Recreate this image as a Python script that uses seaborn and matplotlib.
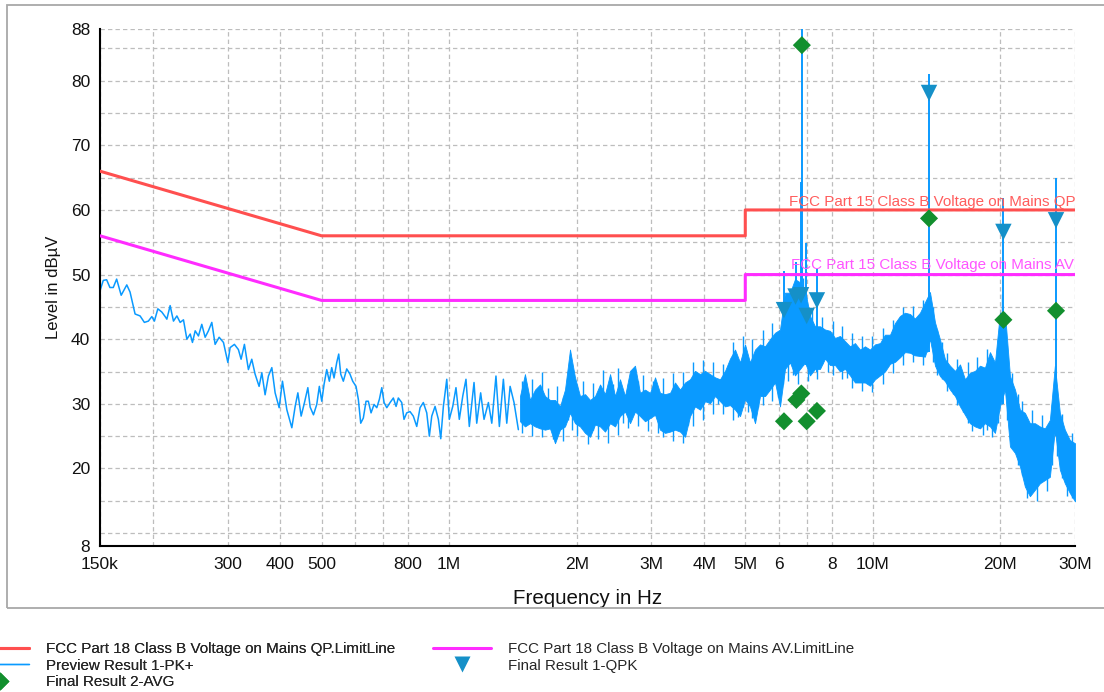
import matplotlib
matplotlib.use('Agg')
import matplotlib.pyplot as plt
from matplotlib.lines import Line2D
from matplotlib.patches import Rectangle
from matplotlib.ticker import NullLocator
import pandas as pd
import seaborn as sns

# ── data (frequency in MHz, level in dBuV) ───────────────────
qp_freq = [0.15, 0.5, 5.0, 5.0, 30.0]
qp_level = [66, 56, 56, 60, 60]
av_freq = [0.15, 0.5, 5.0, 5.0, 30.0]
av_level = [56, 46, 46, 50, 50]

# preview scan, low part drawn as a single trace
pk_freq = [0.1500, 0.1527, 0.1555, 0.1583, 0.1612, 0.1642, 0.1683, 0.1735, 0.1766, 0.1815,
           0.1865, 0.1909, 0.1951, 0.1988, 0.2016, 0.2054, 0.2099, 0.2137, 0.2157, 0.2196,
           0.2236, 0.2278, 0.2319, 0.2361, 0.2405, 0.2449, 0.2479, 0.2516, 0.2561, 0.2608,
           0.2656, 0.2704, 0.2754, 0.2804, 0.2866, 0.2934, 0.3005, 0.3042, 0.3114, 0.3182,
           0.3229, 0.3288, 0.3360, 0.3422, 0.3484, 0.3561, 0.3614, 0.3679, 0.3746, 0.3816,
           0.3885, 0.3971, 0.4043, 0.4140, 0.4254, 0.4332, 0.4396, 0.4475, 0.4557, 0.4641,
           0.4699, 0.4785, 0.4871, 0.4940, 0.5005, 0.5068, 0.5143, 0.5216, 0.5284, 0.5351,
           0.5430, 0.5489, 0.5549, 0.5628, 0.5733, 0.5835, 0.5922, 0.6030, 0.6106, 0.6186,
           0.6274, 0.6367, 0.6447, 0.6543, 0.6651, 0.6750, 0.6846, 0.6936, 0.7023, 0.7127,
           0.7256, 0.7386, 0.7496, 0.7588, 0.7730, 0.7826, 0.7943, 0.8086, 0.8232, 0.8387,
           0.8539, 0.8693, 0.8856, 0.8982, 0.9100, 0.9265, 0.9433, 0.9556, 0.9693, 0.9874,
           1.001, 1.020, 1.038, 1.057, 1.077, 1.096, 1.116, 1.145, 1.162, 1.187,
           1.209, 1.238, 1.261, 1.290, 1.314, 1.343, 1.368, 1.393, 1.423, 1.457]
pk_level = [47.5, 49.1, 49.2, 48.0, 48.0, 49.3, 46.8, 48.4, 47.3, 43.9,
            43.6, 42.6, 42.8, 43.5, 42.8, 44.7, 44.2, 43.5, 43.1, 45.2,
            42.8, 43.6, 42.6, 43.0, 40.0, 40.8, 39.5, 41.3, 40.5, 42.3,
            40.3, 41.3, 42.6, 39.2, 40.3, 39.5, 36.4, 38.7, 39.2, 38.4,
            36.9, 39.2, 35.3, 36.9, 34.6, 32.7, 34.8, 31.4, 34.3, 35.6,
            31.7, 29.4, 33.5, 29.1, 26.3, 29.6, 31.7, 28.1, 30.2, 32.5,
            29.5, 28.3, 29.9, 32.7, 30.4, 33.0, 35.3, 33.5, 35.6, 34.0,
            36.4, 37.7, 34.6, 33.5, 35.4, 34.6, 33.5, 32.7, 30.7, 27.0,
            27.8, 30.4, 30.4, 28.6, 29.9, 29.4, 30.7, 32.5, 30.2, 29.4,
            30.2, 30.9, 29.6, 30.9, 30.2, 27.6, 28.6, 28.8, 28.1, 26.5,
            29.4, 30.2, 28.6, 25.0, 28.1, 29.6, 27.6, 24.6, 29.6, 33.8,
            27.6, 29.6, 32.5, 27.6, 31.2, 33.8, 26.5, 33.3, 27.0, 31.7,
            27.6, 30.2, 27.0, 34.3, 26.5, 33.8, 27.0, 32.7, 30.2, 26.0]

# preview scan, dense part drawn as min / max band
band_freq = [1.470, 1.510, 1.552, 1.595, 1.639, 1.684, 1.730, 1.778, 1.827, 1.877,
             1.929, 1.982, 2.037, 2.093, 2.151, 2.210, 2.271, 2.333, 2.398, 2.464,
             2.531, 2.601, 2.673, 2.746, 2.822, 2.900, 2.980, 3.062, 3.146, 3.233,
             3.322, 3.413, 3.507, 3.604, 3.703, 3.805, 3.910, 4.018, 4.128, 4.242,
             4.359, 4.479, 4.602, 4.729, 4.859, 4.993, 5.130, 5.272, 5.417, 5.566,
             5.719, 5.877, 6.039, 6.205, 6.376, 6.551, 6.732, 6.917, 7.107, 7.303,
             7.504, 7.711, 7.923, 8.141, 8.365, 8.595, 8.832, 9.075, 9.325, 9.582,
             9.845, 10.12, 10.40, 10.68, 10.98, 11.28, 11.59, 11.91, 12.24, 12.57,
             12.92, 13.27, 13.64, 14.02, 14.40, 14.80, 15.21, 15.63, 16.06, 16.50,
             16.95, 17.42, 17.90, 18.39, 18.90, 19.42, 19.95, 20.50, 21.07, 21.65,
             22.24, 22.85, 23.48, 24.13, 24.79, 25.47, 26.17, 26.89, 27.63, 28.39,
             29.17, 30.00]
band_hi = [31.2, 34.6, 30.6, 32.2, 33.0, 31.2, 30.6, 30.6, 29.6, 32.2,
           38.4, 34.1, 31.2, 31.5, 30.6, 31.2, 33.0, 31.5, 34.6, 31.2,
           33.8, 31.2, 35.1, 35.9, 31.7, 32.2, 31.7, 34.1, 31.7, 31.5,
           31.7, 33.3, 32.2, 33.3, 33.8, 35.1, 34.6, 35.1, 34.6, 34.1,
           33.8, 35.1, 37.0, 38.4, 36.4, 39.2, 36.4, 38.4, 39.2, 38.9,
           40.0, 41.0, 41.5, 47.2, 47.2, 49.3, 48.8, 47.7, 43.6, 42.0,
           42.0, 41.5, 41.3, 40.2, 40.5, 39.7, 38.9, 39.4, 38.4, 38.9,
           38.4, 39.2, 39.4, 40.7, 40.7, 42.5, 43.6, 44.1, 43.9, 43.2,
           44.1, 45.7, 47.3, 42.6, 40.0, 36.9, 35.9, 35.1, 36.1, 33.8,
           34.8, 35.1, 35.9, 35.6, 38.0, 36.4, 44.1, 44.1, 34.3, 32.2,
           29.1, 28.6, 27.0, 27.0, 26.5, 26.2, 27.5, 35.9, 28.6, 26.0,
           24.4, 23.9]
band_lo = [27.3, 26.5, 27.0, 26.5, 26.2, 26.0, 26.2, 23.9, 26.0, 26.5,
           28.6, 27.0, 26.5, 25.5, 24.9, 26.8, 26.5, 25.7, 27.0, 26.5,
           28.1, 28.8, 27.0, 28.8, 28.1, 27.3, 27.8, 28.3, 26.0, 25.5,
           25.7, 26.0, 25.7, 24.9, 28.1, 29.6, 29.1, 30.4, 30.1, 31.2,
           30.4, 29.6, 29.8, 29.1, 28.1, 30.7, 29.6, 27.0, 31.2, 31.2,
           32.2, 33.3, 29.6, 35.4, 36.4, 34.4, 35.4, 36.4, 34.4, 35.4,
           35.4, 37.0, 36.0, 36.0, 35.0, 35.4, 34.4, 33.3, 33.3, 33.3,
           32.8, 33.8, 34.4, 35.0, 36.2, 36.5, 37.2, 38.0, 37.9, 37.5,
           37.4, 37.3, 40.0, 35.9, 34.3, 33.5, 32.2, 31.2, 29.6, 28.3,
           27.0, 26.5, 26.2, 27.0, 26.5, 25.5, 29.6, 32.2, 23.4, 22.4,
           20.3, 17.2, 15.7, 16.7, 17.7, 18.2, 18.7, 26.0, 19.8, 17.7,
           16.2, 14.9]

# single sweeps between the band samples (the comb on the band edges)
sweep_freq = [1.490, 1.531, 1.573, 1.617, 1.661, 1.707, 1.754, 1.802, 1.852, 1.903,
              1.955, 2.009, 2.065, 2.122, 2.180, 2.240, 2.302, 2.365, 2.431, 2.498,
              2.566, 2.637, 2.710, 2.784, 2.861, 2.940, 3.021, 3.104, 3.189, 3.277,
              3.368, 3.460, 3.555, 3.653, 3.754, 3.857, 3.964, 4.073, 4.185, 4.300,
              4.419, 4.540, 4.665, 4.794, 4.926, 5.061, 5.200, 5.344, 5.491, 5.642,
              5.797, 5.958, 6.122, 6.290, 6.463, 6.641, 6.824, 7.012, 7.204, 7.403,
              7.607, 7.817, 8.032, 8.253, 8.480, 8.713, 8.953, 9.199, 9.453, 9.713,
              9.980, 10.26, 10.54, 10.83, 11.13, 11.43, 11.75, 12.07, 12.41, 12.74,
              13.10, 13.45, 13.83, 14.21, 14.60, 15.00, 15.42, 15.84, 16.28, 16.73,
              17.18, 17.66, 18.15, 18.64, 19.16, 19.69, 20.22, 20.78, 21.36, 21.95,
              22.54, 23.16, 23.80, 24.46, 25.13, 25.82, 26.53, 27.26, 28.01, 28.78,
              29.57]
sweep_hi = [33.5, 32.0, 33.8, 31.0, 35.0, 32.5, 29.5, 32.8, 31.0, 34.5,
            35.5, 32.0, 33.6, 30.0, 33.2, 30.5, 35.2, 32.0, 33.0, 35.5,
            31.5, 33.0, 34.0, 33.5, 34.5, 30.8, 33.5, 32.0, 34.0, 30.5,
            34.8, 31.5, 35.0, 32.0, 36.5, 33.5, 36.8, 33.0, 36.5, 32.8,
            36.2, 34.5, 39.5, 36.0, 40.5, 37.0, 40.0, 37.5, 41.5, 38.0,
            42.5, 40.0, 44.0, 45.0, 48.0, 47.0, 49.5, 45.0, 44.5, 40.5,
            43.5, 40.0, 42.8, 39.0, 42.0, 38.5, 41.0, 37.8, 40.5, 37.5,
            40.5, 38.0, 41.8, 39.5, 43.0, 41.5, 45.0, 42.8, 45.2, 42.5,
            46.0, 44.5, 45.0, 41.5, 39.5, 37.8, 34.5, 37.0, 34.0, 36.5,
            33.5, 37.2, 34.0, 38.5, 35.5, 40.0, 47.0, 38.0, 34.8, 31.5,
            30.5, 27.0, 29.0, 25.8, 28.2, 25.5, 30.0, 31.0, 28.5, 24.0,
            25.5]
sweep_lo = [25.5, 27.5, 25.0, 27.2, 24.8, 26.8, 24.5, 25.5, 24.2, 27.5,
            26.0, 25.0, 27.0, 23.8, 26.0, 24.5, 26.8, 24.0, 27.5, 25.2,
            27.0, 26.2, 28.5, 26.5, 28.5, 25.8, 28.5, 25.5, 24.8, 26.5,
            24.2, 26.5, 24.0, 26.8, 26.5, 30.2, 27.5, 30.8, 28.5, 30.0,
            28.5, 30.5, 27.5, 28.0, 29.5, 28.8, 27.8, 29.5, 29.8, 32.0,
            30.5, 31.0, 33.0, 33.5, 34.5, 33.0, 36.0, 33.5, 35.8, 33.8,
            36.2, 35.0, 34.5, 36.5, 33.8, 34.0, 32.5, 34.0, 32.0, 33.8,
            31.8, 34.5, 33.0, 35.8, 34.8, 37.0, 36.0, 38.5, 36.5, 38.0,
            36.0, 38.0, 36.5, 34.5, 33.8, 32.0, 31.5, 29.8, 28.8, 27.0,
            25.8, 27.2, 25.2, 26.0, 24.8, 27.0, 30.0, 27.5, 24.0, 20.5,
            19.0, 15.5, 17.0, 15.0, 18.5, 16.5, 20.5, 22.0, 18.5, 15.8,
            15.5]

# narrow spikes of the preview scan
spike_freq = [6.17, 6.57, 6.76, 6.80, 6.97, 7.37, 13.56, 20.33, 27.08]
spike_lo = [35, 36, 36, 36, 36, 35, 38, 30, 25]
spike_hi = [50.6, 52.0, 64.4, 90.0, 54.9, 50.9, 81.1, 61.8, 64.9]

qpk_freq = [6.17, 6.57, 6.77, 6.98, 7.38, 13.57, 20.33, 27.06]
qpk_level = [44.5, 46.6, 46.8, 43.6, 46.0, 78.1, 56.6, 58.4]

avg_freq = [6.17, 6.60, 6.78, 6.80, 6.98, 7.38, 13.57, 20.33, 27.06]
avg_level = [27.3, 30.6, 31.6, 85.5, 27.3, 28.9, 58.7, 43.0, 44.4]

x_ticks = [0.15, 0.2, 0.3, 0.4, 0.5, 0.6, 0.7, 0.8, 1, 2, 3, 4, 5, 6, 7, 8, 10, 20, 30]
x_labels = ['150k', '', '300', '400', '500', '', '', '800', '1M', '2M', '3M', '4M',
            '5M', '6', '', '8', '10M', '20M', '30M']
y_ticks = [8, 10, 15, 20, 25, 30, 35, 40, 45, 50, 55, 60, 65, 70, 75, 80, 85, 88]
y_labels = ['8', '', '', '20', '', '30', '', '40', '', '50', '', '60', '', '70', '',
            '80', '', '88']

# ── style ────────────────────────────────────────────────────
sns.set_theme(style='white')
plt.rcParams['font.family'] = ['Liberation Sans', 'DejaVu Sans']

trace_c = '#0a9aff'
qpk_c = '#1590c8'
avg_c = '#128f2e'
qp_c = '#ff4f4f'
av_c = '#ff2cff'

fig = plt.figure(figsize=(11.04, 6.92), dpi=100)
ax = fig.add_axes([100 / 1104, 1 - 546 / 692, 975 / 1104, 517 / 692])

fig.patches.append(Rectangle((7 / 1104, 1 - 608 / 692), 1.2, 603 / 692,
                             transform=fig.transFigure, fill=False,
                             edgecolor='#a8a8a8', lw=1.3, zorder=0))

# preview trace
ax.fill_between(band_freq, band_lo, band_hi, color=trace_c, lw=0.6, zorder=2)
ax.vlines(sweep_freq, sweep_lo, sweep_hi, color=trace_c, lw=1.0, zorder=2)
sns.lineplot(x=pk_freq, y=pk_level, ax=ax, color=trace_c, lw=1.1,
             estimator=None, sort=False, zorder=2)
ax.vlines(spike_freq, spike_lo, spike_hi, color=trace_c, lw=1.4, zorder=2)

# limit lines
lim = pd.DataFrame({'f': qp_freq + av_freq, 'lvl': qp_level + av_level,
                    'line': ['QP'] * len(qp_freq) + ['AV'] * len(av_freq)})
sns.lineplot(data=lim, x='f', y='lvl', hue='line', palette={'QP': qp_c, 'AV': av_c},
             ax=ax, lw=2.2, estimator=None, sort=False, legend=False, zorder=3)

ax.text(6.34, 60.6, 'FCC Part 15 Class B Voltage on Mains QP', color='#ff5c5c',
        fontsize=10.9, va='baseline', ha='left', zorder=4)
ax.text(6.41, 50.8, 'FCC Part 15 Class B Voltage on Mains AV', color='#ff55ff',
        fontsize=10.9, va='baseline', ha='left', zorder=4)

# final results
sns.scatterplot(x=qpk_freq, y=qpk_level, ax=ax, marker='v', s=140, color=qpk_c,
                edgecolor='none', zorder=5)
sns.scatterplot(x=avg_freq, y=avg_level, ax=ax, marker='D', s=85, color=avg_c,
                edgecolor='none', zorder=5)

# ── axes ─────────────────────────────────────────────────────
ax.set_xscale('log')
ax.set_xlim(0.15, 30)
ax.set_ylim(8, 88)
ax.set_xticks(x_ticks)
ax.set_xticklabels(x_labels)
ax.xaxis.set_minor_locator(NullLocator())
ax.set_yticks(y_ticks)
ax.set_yticklabels(y_labels)
ax.grid(True, color='#bdbdbd', linestyle=(0, (3.5, 2.5)), lw=0.9)
for s in ['top', 'right']:
    ax.spines[s].set_visible(False)
for s in ['left', 'bottom']:
    ax.spines[s].set_color('black')
    ax.spines[s].set_linewidth(1.5)
ax.tick_params(axis='both', direction='inout', length=8, width=1.1, color='black',
               labelsize=12.5, labelcolor='#111111')
ax.tick_params(axis='x', pad=4)
ax.tick_params(axis='y', pad=3)
ax.set_xlabel('Frequency in Hz', fontsize=14.8, labelpad=12, color='#111111')
ax.set_ylabel('Level in dBµV', fontsize=12, labelpad=7, color='#111111')

# ── legend ───────────────────────────────────────────────────
h_qp = Line2D([], [], color=qp_c, lw=2.2)
h_pk = Line2D([], [], color=trace_c, lw=1.0)
h_avg = Line2D([], [], color=avg_c, marker='D', ls='none', ms=9, mec='none')
h_av = Line2D([], [], color=av_c, lw=2.2)
h_qpk = Line2D([], [], color=qpk_c, marker='v', ls='none', ms=11.5, mec='none')

leg_kw = dict(loc='upper left', bbox_transform=fig.transFigure, frameon=False,
              borderpad=0, borderaxespad=0, handlelength=3.85, handletextpad=1.1,
              labelspacing=0.18, fontsize=10.9)
leg1 = fig.legend([h_qp, h_pk, h_avg],
                  ['FCC Part 18 Class B Voltage on Mains QP.LimitLine',
                   'Preview Result 1-PK+', 'Final Result 2-AVG'],
                  bbox_to_anchor=(-29 / 1104, 1 - 642 / 692), **leg_kw)
fig.legend([h_av, h_qpk],
           ['FCC Part 18 Class B Voltage on Mains AV.LimitLine', 'Final Result 1-QPK'],
           bbox_to_anchor=(433 / 1104, 1 - 642 / 692), **leg_kw)
fig.add_artist(leg1)

fig.savefig('out.png', dpi=100)
